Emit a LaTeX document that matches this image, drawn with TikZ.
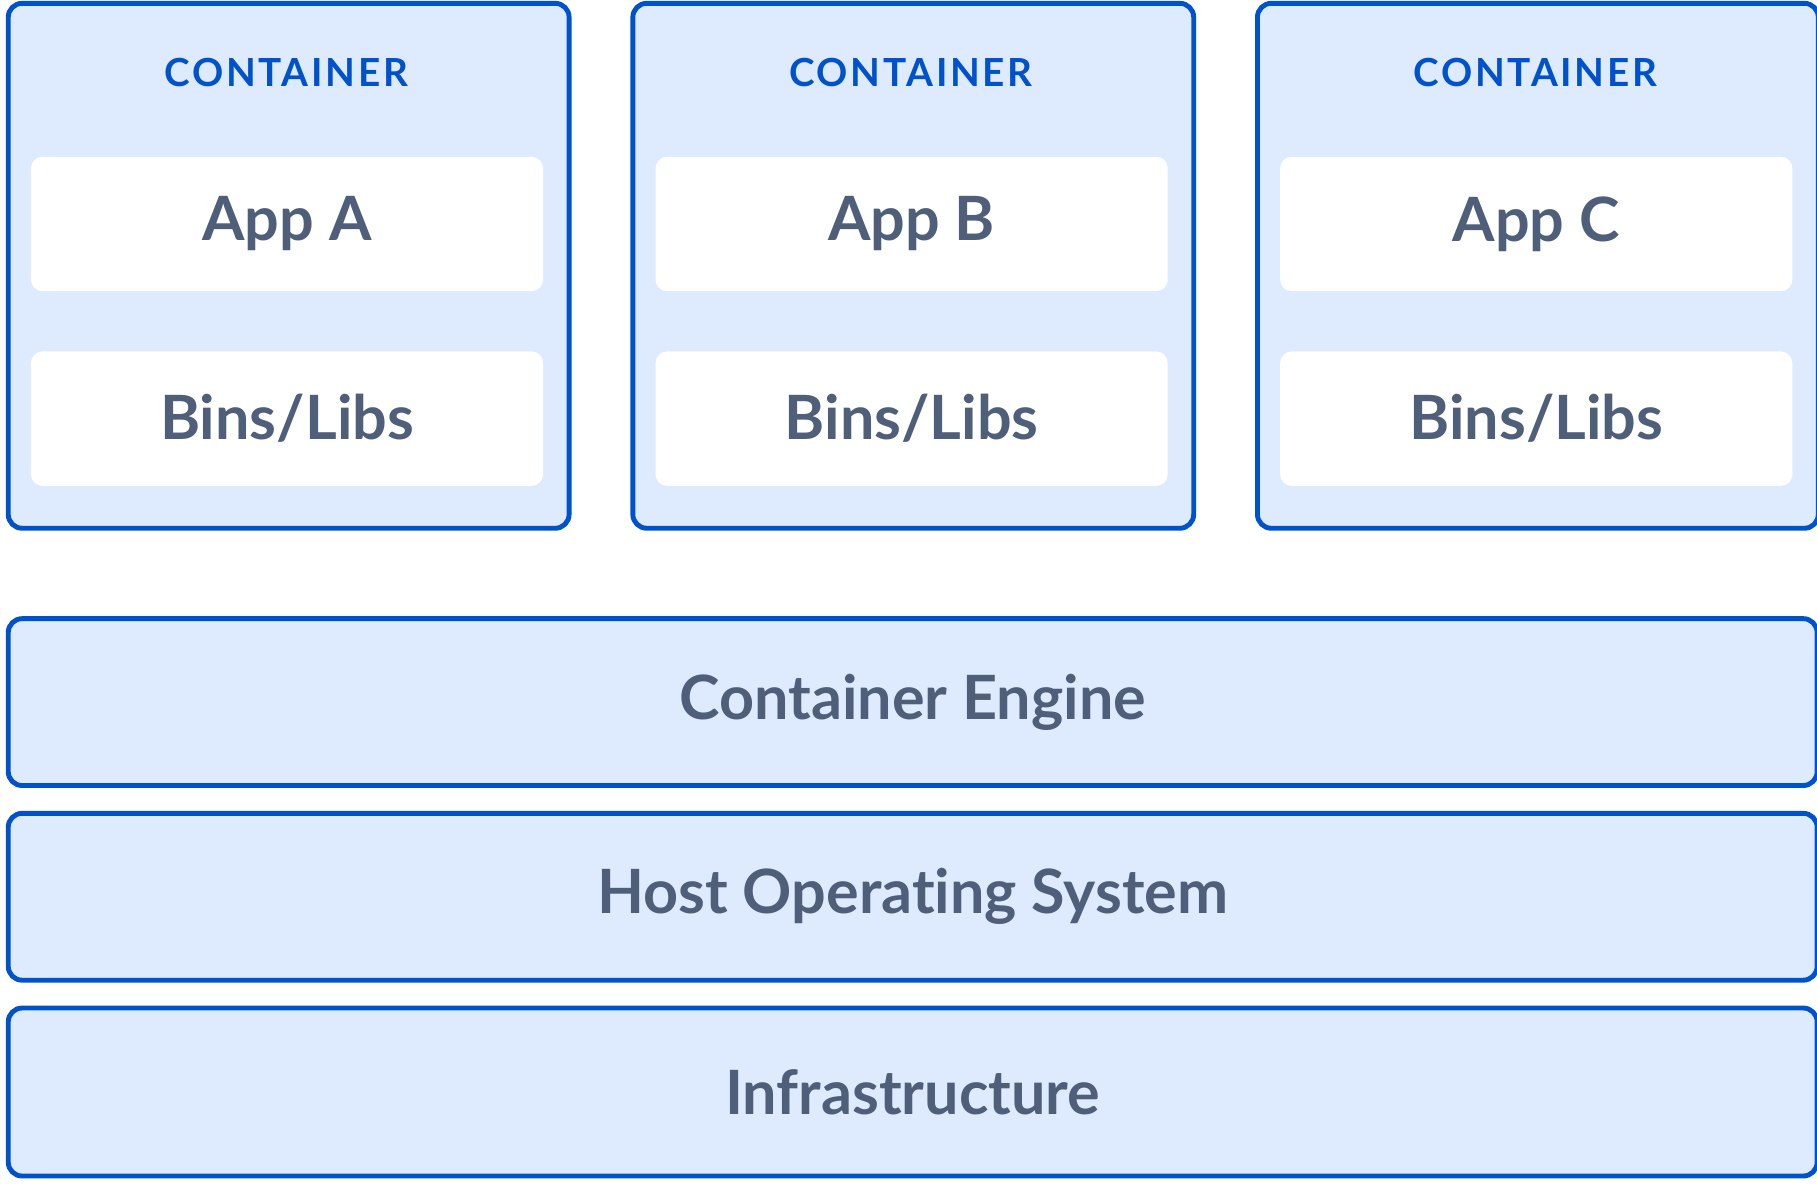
\documentclass[tikz,border=0pt]{standalone}
\usepackage{fontspec}
\setmainfont{Lato}[Ligatures=NoCommon]
\usepackage{tikz}
\usetikzlibrary{positioning}

\definecolor{boxblue}{HTML}{0052CC}
\definecolor{boxfill}{HTML}{DEEBFF}
\definecolor{labelgray}{HTML}{505F79}

\tikzset{
  layer/.style={rectangle, draw=boxblue, line width=1.2pt, fill=boxfill, rounded corners=0.12cm, anchor=south west, text=labelgray, font=\fontsize{15}{18}\selectfont\bfseries},
  inner box/.style={rectangle, fill=white, rounded corners=0.1cm, minimum height=1.16cm, minimum width=4.42cm, anchor=south west, text=labelgray, font=\fontsize{15}{18}\selectfont\bfseries},
  title/.style={text=boxblue, font=\fontsize{9.5}{12}\selectfont\bfseries\addfontfeatures{LetterSpace=7}}
}

\begin{document}
\begin{tikzpicture}

\useasboundingbox (0,0) rectangle (15.68,10.23);

% containers
\foreach \i/\name in {0/A,1/B,2/C} {
  \node at ({0.05+5.39*\i},5.65) [layer, minimum height=4.53cm, minimum width=4.84cm] (cont\name) {};
  \node at ({0.05+5.39*\i+2.42},9.60) [title] (title\name) {CONTAINER};
  \node at ({0.26+5.39*\i},7.71) [inner box] (app\name) {App \name};
  \node at ({0.26+5.39*\i},6.03) [inner box] (libs\name) {Bins/Libs};
}

% layers
\node at (0.05,3.43) [layer, minimum height=1.44cm, minimum width=15.61cm] (engine) {Container Engine};
\node at (0.05,1.75) [layer, minimum height=1.44cm, minimum width=15.61cm] (hostos) {Host Operating System};
\node at (0.05,0.06) [layer, minimum height=1.45cm, minimum width=15.61cm] (infra) {Infrastructure};

\end{tikzpicture}
\end{document}
